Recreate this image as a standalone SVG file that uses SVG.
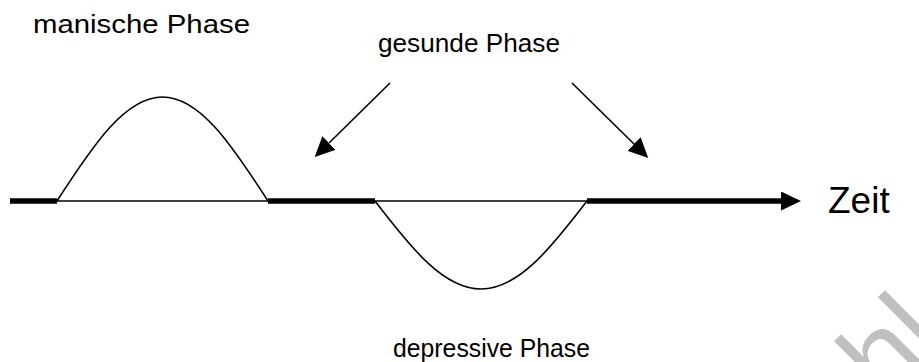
<svg xmlns="http://www.w3.org/2000/svg" width="919" height="362" viewBox="0 0 919 362">
<defs>
<style>
.lbl{font-family:"Liberation Sans",Arial,sans-serif;fill:#000}
.thin{stroke:#000;stroke-width:1.4;fill:none}
.thick{stroke:#000;stroke-width:5.5;fill:none}
.curve{stroke:#000;stroke-width:1.6;fill:none}
.ptr{stroke:#000;stroke-width:1.6;fill:none}
</style>
<marker id="ah" viewBox="0 0 20 20" refX="0" refY="10" markerWidth="20" markerHeight="19" markerUnits="userSpaceOnUse" orient="auto" preserveAspectRatio="none">
<path d="M0,0 L20,10 L0,20 z" fill="#000"/>
</marker>
</defs>
<rect width="919" height="362" fill="#fff"/>
<g id="watermark">
<text x="0" y="0" transform="translate(886,404) rotate(-45)" font-family="Liberation Sans, Arial, sans-serif" font-size="112" fill="#c0c0c0">hl</text>
</g>
<g id="connectors">
<line class="thin" x1="57" y1="201" x2="587" y2="201"/>
<line class="thick" x1="10" y1="201" x2="57" y2="201"/>
<line class="thick" x1="268" y1="201" x2="375" y2="201"/>
<line class="thick" x1="587" y1="201" x2="781" y2="201" marker-end="url(#ah)"/>
<line class="ptr" x1="390" y1="83" x2="329" y2="143" marker-end="url(#ah)"/>
<line class="ptr" x1="572" y1="83" x2="634" y2="144" marker-end="url(#ah)"/>
</g>
<g id="manic-curve">
<path class="curve" d="M57,201 C93.9,143.8 125.6,97 162.5,97 C199.4,97 231.1,143.8 268,201"/>
</g>
<g id="depressive-curve">
<path class="curve" d="M375,201 C412.1,249.4 443.9,289 481,289 C518.1,289 549.9,249.4 587,201"/>
</g>
<g id="label-manisch"><text class="lbl" x="33" y="33" font-size="26" textLength="217" lengthAdjust="spacingAndGlyphs">manische Phase</text></g>
<g id="label-gesund"><text class="lbl" x="378" y="52" font-size="26" textLength="182" lengthAdjust="spacingAndGlyphs">gesunde Phase</text></g>
<g id="label-depressiv"><text class="lbl" x="393" y="357" font-size="26" textLength="197" lengthAdjust="spacingAndGlyphs">depressive Phase</text></g>
<g id="label-zeit"><text class="lbl" x="828" y="213" font-size="37">Zeit</text></g>
</svg>
